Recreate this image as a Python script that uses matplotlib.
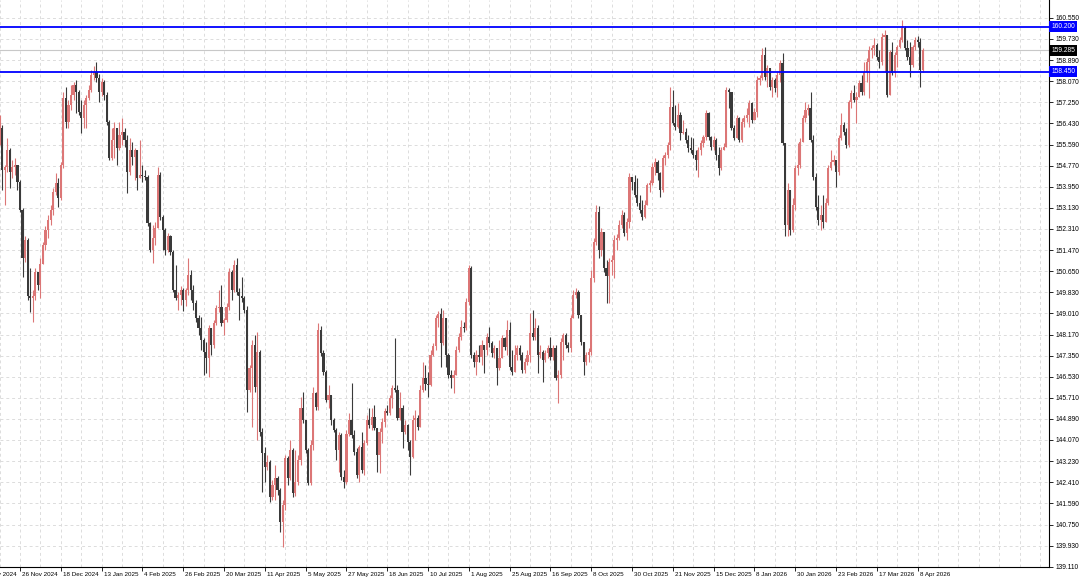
import numpy as np
import matplotlib
matplotlib.use('Agg')
import matplotlib.pyplot as plt
import matplotlib.transforms as mtransforms

# daily candles, open of each bar = previous close
first_open = 155.78
closes = [
    156.25, 154.61, 154.73, 155.39, 154.54, 154.73, 154.81, 154.14, 153.05, 151.18,
    151.88, 149.69, 149.61, 149.69, 150.63, 150.12, 150.94, 151.68, 152.27, 152.66,
    153.05, 153.75, 154.10, 153.52, 154.81, 157.42, 156.49, 157.15, 157.54, 157.93,
    157.66, 156.88, 156.64, 157.15, 157.42, 157.74, 158.32, 158.44, 158.21, 157.66,
    158.05, 157.54, 156.49, 155.08, 155.78, 156.25, 155.47, 155.98, 156.10, 155.78,
    154.54, 155.39, 155.12, 155.39, 154.30, 154.42, 154.38, 154.34, 152.54, 151.49,
    151.96, 152.35, 154.42, 152.78, 152.27, 151.49, 152.04, 151.41, 149.93, 149.61,
    149.73, 149.93, 149.53, 149.93, 150.51, 149.93, 149.42, 148.83, 148.44, 147.97,
    147.50, 147.27, 148.44, 147.78, 148.64, 149.22, 149.26, 148.64, 148.75, 149.26,
    150.63, 149.93, 150.90, 149.85, 149.69, 149.61, 149.14, 146.02, 146.88, 147.78,
    146.14, 147.50, 144.38, 143.56, 143.01, 143.20, 141.84, 142.31, 142.58, 142.11,
    140.86, 141.53, 143.36, 142.58, 143.67, 142.00, 142.42, 143.28, 145.32, 144.85,
    143.67, 142.39, 143.87, 145.90, 145.35, 148.36, 147.46, 146.72, 145.63, 145.82,
    144.85, 144.46, 143.67, 144.26, 142.62, 142.42, 144.30, 144.85, 144.26, 143.60,
    142.70, 143.79, 142.89, 143.95, 144.85, 144.65, 144.96, 144.54, 143.48, 144.38,
    144.77, 145.20, 145.12, 145.71, 146.10, 146.02, 144.93, 145.32, 144.38, 144.65,
    143.99, 143.40, 144.85, 144.93, 144.57, 146.02, 146.49, 146.25, 146.21, 147.39,
    147.74, 148.83, 148.99, 147.85, 148.83, 147.39, 146.60, 146.49, 146.60, 147.58,
    148.09, 148.48, 148.44, 149.46, 150.78, 147.39, 147.11, 147.39, 147.31, 147.78,
    147.58, 148.09, 147.85, 147.46, 147.66, 146.88, 147.27, 148.05, 147.70, 148.36,
    146.92, 146.72, 147.39, 147.66, 147.39, 146.80, 147.11, 147.39, 148.24, 148.09,
    148.44, 147.39, 147.50, 147.19, 147.46, 147.66, 147.31, 147.66, 146.49, 146.60,
    147.89, 148.17, 147.78, 147.66, 148.83, 149.73, 149.85, 148.95, 147.89, 147.11,
    147.39, 147.50, 150.39, 151.80, 152.97, 151.49, 152.19, 150.78, 150.47, 151.02,
    151.10, 151.88, 151.96, 152.46, 152.85, 152.15, 152.58, 154.34, 154.14, 153.64,
    153.32, 153.05, 152.78, 153.25, 154.03, 154.10, 154.73, 154.92, 154.50, 153.83,
    155.08, 155.20, 155.59, 157.07, 156.45, 156.29, 156.76, 156.06, 156.10, 155.78,
    155.47, 155.39, 155.20, 155.00, 155.39, 155.67, 155.90, 156.84, 155.90, 155.51,
    155.78, 155.20, 154.69, 155.39, 155.51, 157.74, 157.66, 156.25, 155.86, 156.64,
    155.78, 156.49, 156.64, 156.76, 157.23, 156.57, 156.88, 158.13, 158.21, 159.10,
    158.25, 158.60, 157.85, 158.13, 157.81, 158.32, 158.79, 155.67, 152.46, 153.83,
    152.27, 153.25, 154.69, 154.81, 155.71, 156.64, 156.96, 157.03, 155.78, 154.34,
    153.17, 152.66, 152.85, 152.58, 153.32, 154.69, 154.92, 155.00, 154.54, 155.86,
    156.37, 156.10, 155.59, 157.27, 157.62, 157.35, 157.46, 158.01, 157.66, 158.44,
    158.83, 159.30, 159.38, 159.50, 159.03, 158.83, 159.81, 159.89, 157.54, 159.22,
    158.40, 159.10, 159.42, 159.69, 160.16, 159.38, 159.03, 158.71, 159.42, 159.69,
    159.61, 158.52, 159.285,
]
highs = [
    156.76, 156.37, 154.81, 155.86, 155.47, 155.00, 155.08, 154.42, 154.22, 153.13,
    152.04, 151.96, 150.78, 149.93, 150.78, 150.63, 151.18, 151.80, 152.42, 152.85,
    153.25, 153.91, 154.50, 154.30, 154.92, 157.66, 157.85, 157.35, 157.93, 158.05,
    158.13, 157.74, 157.35, 157.35, 157.54, 157.93, 158.52, 158.67, 158.83, 158.36,
    158.21, 158.13, 157.66, 156.57, 156.25, 156.49, 156.17, 156.49, 156.64, 156.25,
    155.98, 155.86, 155.71, 155.47, 155.32, 155.78, 154.81, 154.61, 154.42, 152.58,
    152.46, 152.58, 154.73, 154.54, 152.85, 152.35, 152.15, 152.07, 151.49, 150.90,
    149.85, 150.08, 150.00, 150.00, 151.18, 150.71, 150.12, 149.53, 148.95, 148.87,
    148.05, 147.89, 148.56, 148.36, 148.75, 149.34, 149.93, 150.12, 148.83, 149.42,
    150.78, 150.71, 151.10, 151.18, 150.00, 150.43, 149.69, 149.30, 147.00, 147.97,
    148.17, 148.28, 147.58, 144.54, 143.79, 143.48, 143.28, 142.50, 143.09, 142.66,
    142.19, 141.72, 143.48, 143.44, 144.07, 143.75, 143.67, 143.48, 145.74, 145.94,
    144.85, 143.75, 144.07, 146.14, 145.94, 148.64, 148.52, 147.58, 146.80, 146.21,
    145.55, 144.93, 144.54, 144.38, 144.34, 142.89, 144.46, 145.12, 146.29, 144.46,
    143.75, 143.87, 144.38, 144.07, 145.04, 145.32, 145.32, 145.43, 144.54, 144.54,
    144.93, 145.32, 145.43, 145.82, 146.21, 148.05, 146.21, 145.94, 145.43, 144.85,
    144.69, 144.07, 145.04, 145.24, 145.04, 146.21, 147.11, 147.00, 146.72, 147.58,
    147.85, 148.95, 149.10, 149.22, 149.14, 148.64, 147.46, 146.80, 146.80, 147.74,
    148.24, 148.75, 148.67, 149.61, 150.90, 150.86, 147.50, 147.58, 147.78, 147.97,
    147.78, 148.24, 148.48, 147.93, 147.78, 147.58, 147.97, 148.17, 148.09, 148.75,
    148.67, 147.58, 147.78, 147.78, 147.78, 147.50, 147.27, 147.58, 149.03, 149.14,
    148.83, 148.56, 147.78, 147.58, 147.58, 147.78, 148.09, 147.78, 147.78, 146.80,
    148.05, 148.24, 148.24, 147.89, 148.95, 149.93, 150.00, 149.93, 148.95, 147.85,
    147.50, 147.66, 150.71, 151.96, 153.25, 153.21, 152.35, 151.88, 151.10, 151.18,
    151.29, 152.07, 152.11, 152.66, 153.05, 152.97, 152.74, 154.50, 154.30, 154.42,
    154.30, 153.64, 153.44, 153.44, 154.10, 154.22, 154.88, 155.08, 155.00, 154.54,
    155.20, 155.32, 155.71, 157.85, 157.74, 157.15, 157.23, 156.88, 156.57, 156.25,
    155.98, 155.90, 155.86, 155.39, 155.51, 155.78, 155.98, 156.96, 156.88, 155.94,
    155.94, 155.86, 155.51, 155.51, 155.67, 157.85, 157.81, 157.54, 156.37, 156.76,
    156.68, 156.64, 156.76, 157.03, 157.35, 157.27, 157.03, 158.28, 158.32, 159.38,
    159.42, 158.71, 158.60, 158.25, 158.21, 158.44, 158.91, 159.18, 155.32, 154.10,
    153.64, 153.52, 154.81, 155.67, 155.86, 156.76, 157.27, 157.19, 157.66, 155.98,
    154.50, 153.64, 153.25, 153.64, 153.52, 154.81, 155.39, 155.20, 155.00, 155.98,
    156.84, 156.49, 156.25, 157.35, 157.74, 157.93, 157.66, 158.13, 158.32, 158.83,
    158.99, 159.46, 159.50, 159.77, 159.57, 159.30, 159.96, 160.08, 159.85, 159.30,
    159.61, 159.22, 159.50, 159.81, 160.47, 160.24, 159.69, 159.61, 159.50, 159.81,
    159.85, 159.77, 159.38,
]
lows = [
    155.59, 153.83, 153.25, 154.54, 153.91, 154.30, 154.42, 153.83, 152.97, 150.43,
    151.02, 149.53, 149.07, 148.67, 149.53, 149.93, 149.61, 150.98, 151.49, 151.96,
    152.46, 152.85, 153.64, 153.17, 153.44, 154.69, 156.25, 156.25, 156.96, 157.35,
    156.84, 156.76, 156.06, 156.25, 156.25, 157.35, 157.66, 158.13, 158.05, 157.27,
    157.50, 157.35, 156.37, 155.00, 155.00, 155.08, 154.81, 155.39, 155.59, 155.51,
    153.71, 154.42, 154.81, 154.22, 153.83, 154.30, 154.14, 154.22, 152.42, 151.41,
    150.98, 151.68, 152.35, 152.66, 151.49, 151.29, 151.41, 151.29, 149.85, 149.53,
    149.14, 149.34, 149.10, 149.30, 149.73, 149.53, 149.14, 148.67, 148.17, 147.58,
    146.60, 146.68, 146.53, 147.39, 147.66, 148.56, 149.07, 148.52, 148.17, 148.67,
    149.14, 149.53, 149.85, 149.73, 148.75, 149.46, 149.03, 145.16, 145.94, 144.57,
    145.94, 144.07, 144.22, 142.04, 142.42, 142.89, 141.64, 141.72, 141.72, 141.92,
    140.47, 139.89, 141.33, 142.31, 142.50, 141.84, 141.88, 142.31, 143.09, 144.73,
    143.56, 142.31, 142.31, 143.67, 145.24, 145.24, 147.35, 146.60, 145.55, 145.32,
    144.65, 144.38, 143.28, 142.82, 142.50, 142.19, 142.35, 144.22, 144.14, 143.48,
    142.58, 142.42, 142.78, 142.70, 143.87, 144.54, 144.46, 144.46, 142.82, 142.78,
    143.95, 144.57, 145.04, 145.04, 145.32, 145.94, 144.85, 144.85, 143.75, 144.30,
    143.67, 142.70, 143.36, 144.07, 144.46, 145.24, 145.94, 146.02, 145.74, 146.18,
    147.35, 147.58, 148.48, 146.92, 147.78, 146.92, 146.49, 146.10, 145.90, 146.80,
    147.50, 147.97, 148.28, 148.36, 149.34, 147.27, 146.92, 146.60, 147.11, 147.00,
    146.68, 147.39, 147.70, 147.31, 147.27, 146.21, 146.80, 147.39, 147.58, 147.39,
    146.80, 146.60, 146.72, 147.19, 147.19, 146.68, 146.68, 147.00, 147.11, 147.97,
    147.97, 146.68, 147.27, 146.33, 147.11, 147.27, 147.19, 147.19, 146.41, 145.51,
    146.49, 147.19, 147.66, 147.50, 147.50, 148.83, 149.61, 148.83, 147.78, 146.60,
    147.00, 147.11, 147.39, 150.24, 151.68, 151.18, 151.25, 150.63, 149.42, 149.42,
    150.51, 150.39, 151.49, 151.88, 152.35, 152.04, 151.88, 152.35, 153.83, 153.56,
    153.21, 152.93, 152.66, 152.74, 153.44, 153.75, 154.03, 154.42, 154.22, 153.56,
    153.75, 154.81, 155.08, 155.39, 156.37, 156.17, 156.25, 155.78, 156.02, 155.67,
    155.32, 155.28, 155.08, 154.61, 154.34, 155.20, 155.51, 155.78, 155.78, 155.39,
    155.39, 155.00, 154.42, 154.61, 155.39, 155.59, 157.03, 156.17, 155.78, 155.86,
    155.71, 155.71, 156.29, 156.49, 156.29, 156.45, 156.57, 156.68, 157.93, 158.13,
    158.13, 157.85, 157.74, 157.46, 157.66, 157.46, 158.05, 155.59, 152.04, 152.04,
    152.07, 152.19, 153.05, 154.42, 154.69, 155.71, 156.49, 156.76, 155.71, 154.22,
    153.05, 152.46, 152.27, 152.35, 152.58, 153.25, 154.61, 154.81, 153.95, 154.42,
    155.78, 155.98, 155.47, 155.51, 157.03, 157.27, 156.45, 157.46, 157.54, 157.54,
    158.05, 157.42, 158.99, 159.10, 158.91, 158.60, 158.71, 158.44, 157.46, 157.54,
    158.32, 158.25, 158.64, 159.38, 159.61, 159.30, 158.91, 158.25, 158.64, 159.30,
    159.42, 157.85, 158.44,
]

date_labels = ['14 Nov 2024', '26 Nov 2024', '18 Dec 2024', '13 Jan 2025', '4 Feb 2025',
               '26 Feb 2025', '20 Mar 2025', '11 Apr 2025', '5 May 2025', '27 May 2025',
               '18 Jun 2025', '10 Jul 2025', '1 Aug 2025', '25 Aug 2025', '16 Sep 2025',
               '8 Oct 2025', '30 Oct 2025', '21 Nov 2025', '15 Dec 2025', '8 Jan 2026',
               '30 Jan 2026', '23 Feb 2026', '17 Mar 2026', '8 Apr 2026']
price_ticks = [160.550, 159.730, 158.890, 158.070, 157.250, 156.430, 155.590, 154.770,
               153.950, 153.130, 152.310, 151.470, 150.650, 149.830, 149.010, 148.170,
               147.350, 146.530, 145.710, 144.890, 144.070, 143.230, 142.410, 141.590,
               140.750, 139.930, 139.110]
level_lines = [160.200, 158.450]
last_price = 159.285

opens = np.array([first_open] + closes[:-1])
c = np.array(closes)
h = np.maximum(np.array(highs), np.maximum(opens, c))
l = np.minimum(np.array(lows), np.minimum(opens, c))
idx = np.arange(len(c))
up = c > opens

plt.rcParams['font.family'] = ['Liberation Sans', 'DejaVu Sans']

fig = plt.figure(figsize=(10.8, 5.83), dpi=100)
ax = fig.add_axes([0, 16 / 583, 1049 / 1080, 567 / 583])

# dashed grid: every 8 bars and at every price label
for gx in np.arange(-8, 412, 8):
    ax.axvline(gx, color='#dcdcdc', lw=0.7, ls=(0, (3, 3)), zorder=0)
for p in price_ticks:
    ax.axhline(p, color='#dcdcdc', lw=0.7, ls=(0, (3, 3)), zorder=0)

# bid line
ax.axhline(last_price, color='#c8c8c8', lw=0.8, zorder=1)

cols = np.where(up, '#dc7676', '#3a3a3a')
ax.vlines(idx, l, h, colors=cols, lw=0.8, zorder=2)
ax.bar(idx, np.maximum(np.abs(c - opens), 0.03), bottom=np.minimum(opens, c),
       width=0.85, color=cols, lw=0, zorder=3)

for lv in level_lines:
    ax.axhline(lv, color='#0000ff', lw=1.3, zorder=4)

# axes look
ax.spines['left'].set_visible(False)
ax.spines['top'].set_visible(False)
ax.spines['right'].set_linewidth(0.8)
ax.spines['bottom'].set_linewidth(0.8)

ax.yaxis.tick_right()
ax.set_yticks(price_ticks)
ax.set_yticklabels([f'{p:.3f}' for p in price_ticks])
ax.tick_params(axis='y', length=3, width=0.6, pad=1.5, labelsize=4.8)

label_pos = np.arange(-8, 361, 16)
ax.set_xticks(label_pos)
ax.set_xticklabels([])
ax.tick_params(axis='x', length=3, width=0.6)

# limits last, set_xticks would widen them otherwise
ax.set_xlim(0.16, 411.5)
ax.set_ylim(139.105, 161.253)

tx = mtransforms.blended_transform_factory(ax.transData, ax.transAxes)
for pos, lab in zip(label_pos, date_labels):
    ax.text(pos + 0.8, -0.0125, lab, transform=tx, fontsize=4.5, ha='left', va='center',
            clip_on=False)

ty = mtransforms.blended_transform_factory(ax.transAxes, ax.transData)
for lv in level_lines:
    ax.text(1.002, lv, f'{lv:.3f}', transform=ty, fontsize=4.8, color='white', ha='left',
            va='center', zorder=10, clip_on=False,
            bbox=dict(boxstyle='square,pad=0.3', fc='#0000ff', ec='none'))
ax.text(1.002, last_price, f'{last_price:.3f}', transform=ty, fontsize=4.8, color='white',
        ha='left', va='center', zorder=10, clip_on=False,
        bbox=dict(boxstyle='square,pad=0.3', fc='#000000', ec='none'))

fig.savefig('out.png', dpi=100, facecolor='white')
